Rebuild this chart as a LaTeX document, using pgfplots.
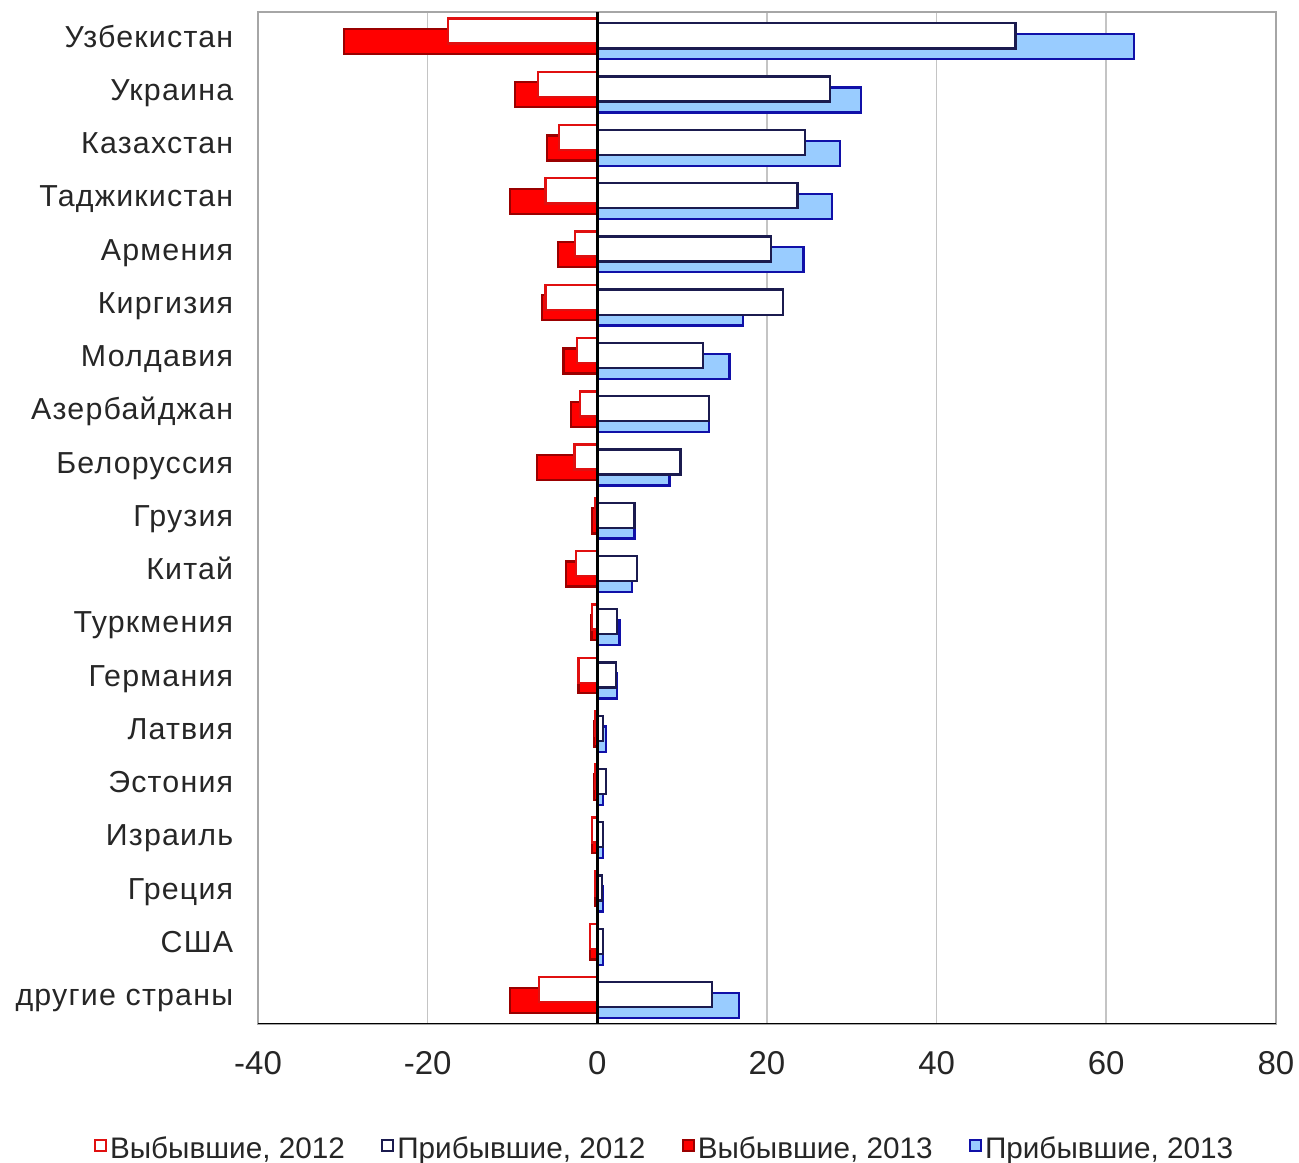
\documentclass[border=0pt]{standalone}
\usepackage{fontspec}
\setmainfont{Liberation Sans}
\newfontfamily\lblfont{Liberation Sans}[LetterSpace=4]
\usepackage{pgfplots}
\pgfplotsset{compat=1.18}
\usepackage{pgfplotstable}

\definecolor{txt}{HTML}{262626}
\definecolor{gridc}{HTML}{C4C4C4}
\definecolor{framec}{HTML}{A6A6A6}
\definecolor{red12}{HTML}{E01010}
\definecolor{red13e}{HTML}{9A0000}
\definecolor{red13}{HTML}{FF0000}
\definecolor{blu12}{HTML}{1B1B4F}
\definecolor{blu13e}{HTML}{1010A8}
\definecolor{blu13}{HTML}{99CCFF}

% idx: 0 = top row; r = left (negative), b = right (positive)
\pgfplotstableread{
idx r12   r13   b12   b13
0   -17.6 -29.9 49.3  63.3
1   -7.0  -9.7  27.4  31.1
2   -4.5  -5.9  24.5  28.6
3   -6.1  -10.3 23.6  27.7
4   -2.6  -4.6  20.5  24.3
5   -6.1  -6.5  21.9  17.2
6   -2.4  -4.0  12.5  15.6
7   -2.0  -3.1  13.2  13.2
8   -2.7  -7.1  9.8   8.5
9   -0.3  -0.6  4.4   4.4
10  -2.5  -3.7  4.7   4.1
11  -0.6  -0.7  2.3   2.6
12  -2.2  -2.2  2.2   2.3
13  -0.3  -0.4  0.7   1.0
14  -0.3  -0.4  1.0   0.7
15  -0.6  -0.6  0.7   0.7
16  -0.2  -0.3  0.55  0.7
17  -0.9  -0.9  0.7   0.7
18  -6.9  -10.3 13.5  16.7
}\migr

\begin{document}
\begin{tikzpicture}
\begin{axis}[
    scale only axis,
    width=308.5pt, height=306.7pt,
    xmin=-40, xmax=80,
    xtick={-40,-20,...,80},
    ymin=-0.5, ymax=18.5,
    y dir=reverse,
    ytick={0,...,18},
    yticklabels={Узбекистан,Украина,Казахстан,Таджикистан,Армения,Киргизия,Молдавия,Азербайджан,Белоруссия,Грузия,Китай,Туркмения,Германия,Латвия,Эстония,Израиль,Греция,США,другие страны},
    xbar, bar width=0.47,
    xmajorgrids,
    grid style={gridc, line width=0.5pt},
    major tick length=0,
    axis line style={framec, line width=0.5pt},
    /pgf/number format/assume math mode=true,
    xticklabel style={font=\fontsize{10}{12}\selectfont, text=txt, yshift=-4.7pt},
    yticklabel style={font=\lblfont\fontsize{9.2}{11}\selectfont, text=txt,
        xshift=-4pt, text height=0.72em, text depth=0.2em},
    legend image code/.code={\draw[#1, line width=0.6pt] (0pt,-0.2pt) rectangle (3.3pt,3.1pt);},
    legend style={
        at={(0.40,-0.125)}, anchor=center,
        draw=none, fill=none,
        font=\fontsize{9}{11}\selectfont,
        text=txt,
        legend columns=4,
        nodes={inner xsep=1pt},
        /tikz/every even column/.append style={column sep=10pt},
    },
]

\addlegendimage{draw=red12, fill=white}
\addlegendentry{Выбывшие, 2012}
\addlegendimage{draw=blu12, fill=white}
\addlegendentry{Прибывшие, 2012}
\addlegendimage{draw=red13e, fill=red13}
\addlegendentry{Выбывшие, 2013}
\addlegendimage{draw=blu13e, fill=blu13}
\addlegendentry{Прибывшие, 2013}

% 2013 behind
\addplot[forget plot, draw=red13e, fill=red13, line width=0.7pt, bar shift=0.056]
    table[x=r13, y=idx] {\migr};
\addplot[forget plot, draw=blu13e, fill=blu13, line width=0.7pt, bar shift=0.155]
    table[x=b13, y=idx] {\migr};
% 2012 in front
\addplot[forget plot, draw=red12, fill=white, line width=0.7pt, bar shift=-0.14]
    table[x=r12, y=idx] {\migr};
\addplot[forget plot, draw=blu12, fill=white, line width=0.7pt, bar shift=-0.05]
    table[x=b12, y=idx] {\migr};

\draw[black, line width=0.8pt] (axis cs:0,-0.5) -- (axis cs:0,18.5);
\draw[black, line width=0.8pt] (axis cs:-40,18.5) -- (axis cs:80,18.5);
\end{axis}
\pgfresetboundingbox
\path[use as bounding box] (-78.2pt,-42.1pt) rectangle (315.5pt,310.3pt);
\end{tikzpicture}
\end{document}
